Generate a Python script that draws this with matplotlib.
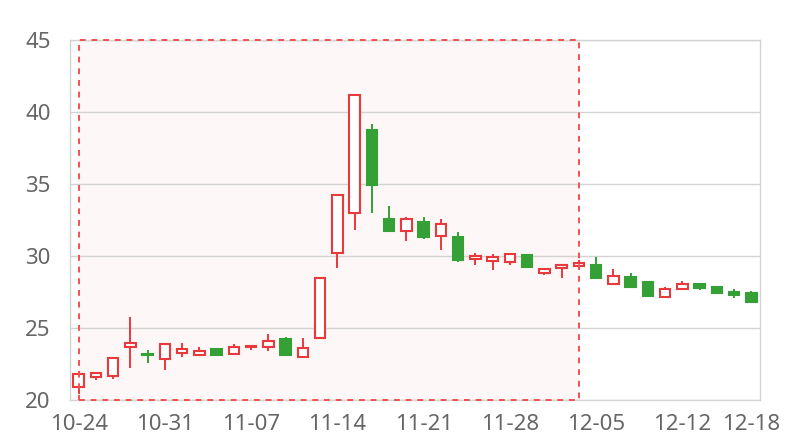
import matplotlib
matplotlib.use("Agg")
import matplotlib.pyplot as plt
from matplotlib.patches import Rectangle
import numpy as np

plt.rcParams['font.family'] = ['Noto Sans', 'DejaVu Sans']

# trading days, 10-24 .. 12-18
dates = ['10-24', '10-25', '10-26', '10-27',
         '10-30', '10-31', '11-01', '11-02', '11-03',
         '11-06', '11-07', '11-08', '11-09', '11-10',
         '11-13', '11-14', '11-15', '11-16', '11-17',
         '11-20', '11-21', '11-22', '11-23', '11-24',
         '11-27', '11-28', '11-29', '11-30', '12-01',
         '12-04', '12-05', '12-06', '12-07', '12-08',
         '12-11', '12-12', '12-13', '12-14', '12-15',
         '12-18']

opens = [20.90, 21.60, 21.67, 23.66, 23.20, 22.83, 23.24, 23.13, 23.54, 23.17,
         23.65, 23.70, 24.24, 23.00, 24.28, 30.23, 32.97, 38.75, 32.60, 31.74,
         32.34, 31.41, 31.30, 29.77, 29.65, 29.60, 30.07, 28.84, 29.15, 29.30,
         29.38, 28.06, 28.52, 28.17, 27.17, 27.70, 28.06, 27.83, 27.48, 27.45]
closes = [21.80, 21.90, 22.90, 23.94, 23.10, 23.89, 23.54, 23.42, 23.15, 23.70,
          23.75, 24.12, 23.15, 23.59, 28.45, 34.24, 41.18, 34.93, 31.76, 32.57,
          31.34, 32.22, 29.72, 30.00, 29.90, 30.14, 29.26, 29.07, 29.38, 29.53,
          28.45, 28.61, 27.87, 27.24, 27.70, 28.03, 27.76, 27.41, 27.29, 26.83]
highs = [22.03, 21.90, 22.90, 25.78, 23.47, 23.90, 23.94, 23.66, 23.60, 23.90,
         23.82, 24.56, 24.35, 24.28, 28.45, 34.24, 41.18, 39.17, 33.47, 32.69,
         32.73, 32.55, 31.69, 30.23, 30.14, 30.14, 30.14, 29.19, 29.38, 29.72,
         29.95, 29.07, 28.84, 28.17, 27.83, 28.28, 28.15, 27.94, 27.69, 27.59]
lows = [20.40, 21.40, 21.44, 22.20, 22.60, 22.08, 22.96, 23.13, 23.15, 23.17,
        23.47, 23.42, 23.15, 23.00, 24.28, 29.15, 31.80, 33.00, 31.76, 31.04,
        31.15, 30.42, 29.60, 29.38, 29.03, 29.38, 29.15, 28.68, 28.45, 29.07,
        28.45, 28.06, 27.80, 27.24, 27.17, 27.70, 27.64, 27.41, 27.06, 26.83]

area_start, area_end = '10-24', '12-04'
tick_dates = ['10-24', '10-31', '11-07', '11-14', '11-21', '11-28', '12-05', '12-12', '12-18']

up_color = '#e8393d'
down_color = '#35a035'
grid_color = '#d3d3d3'

fig = plt.figure(figsize=(8, 4.4), dpi=100)
ax = fig.add_axes([70 / 800, 40 / 440, 690 / 800, 360 / 440])

x = np.arange(len(dates))
o = np.array(opens)
c = np.array(closes)
up = c >= o

# highlighted range
x0 = dates.index(area_start)
x1 = dates.index(area_end)
ax.add_patch(Rectangle((x0, 20), x1 - x0, 25, facecolor='#fef7f7', edgecolor='none', zorder=0))
ax.add_patch(Rectangle((x0, 20), x1 - x0, 25, facecolor='none', edgecolor='#f05252',
                       linestyle=(0, (3, 3)), linewidth=1.4, zorder=4, clip_on=False))

colors = [up_color if u else down_color for u in up]
ax.vlines(x, lows, highs, colors=colors, linewidth=1.4, zorder=2)
bottoms = np.minimum(o, c)
heights = np.maximum(np.abs(c - o), 0.08)
ax.bar(x, heights, bottom=bottoms, width=0.6,
       color=['white' if u else down_color for u in up],
       edgecolor=colors, linewidth=1.5, zorder=3)

ax.set_xlim(-0.5, len(dates) - 0.5)
ax.set_ylim(20, 45)
ax.set_yticks(range(20, 46, 5))
ax.set_xticks([dates.index(d) for d in tick_dates])
ax.set_xticklabels(tick_dates)

ax.grid(axis='y', color=grid_color, linewidth=1, zorder=1)
ax.set_axisbelow(True)
for s in ax.spines.values():
    s.set_color(grid_color)
    s.set_linewidth(1)
ax.tick_params(length=0, labelsize=16, labelcolor='#666666')
ax.tick_params(axis='x', pad=10)
ax.tick_params(axis='y', pad=14)

plt.savefig('out.png', dpi=100)
